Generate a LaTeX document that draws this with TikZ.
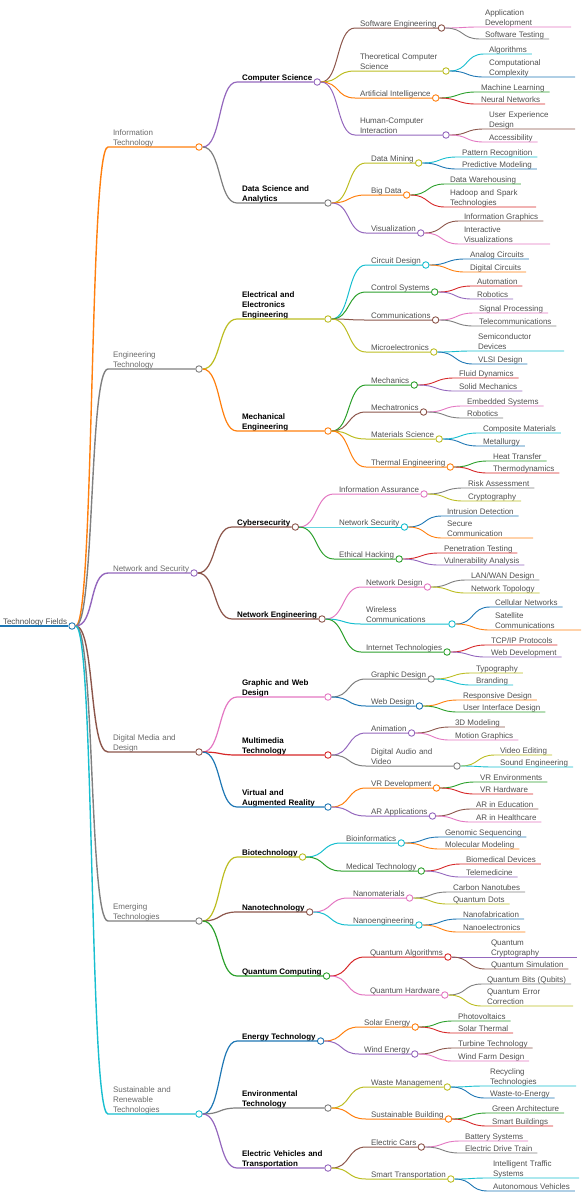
\documentclass[tikz,border=0pt]{standalone}
\usepackage{fontspec}
\setmainfont{Liberation Sans}
\usepackage{tikz}
\definecolor{cblue}{HTML}{1F77B4}
\definecolor{corange}{HTML}{FF7F0E}
\definecolor{cgreen}{HTML}{2CA02C}
\definecolor{cred}{HTML}{D62728}
\definecolor{cpurple}{HTML}{9467BD}
\definecolor{cbrown}{HTML}{8C564B}
\definecolor{cpink}{HTML}{E377C2}
\definecolor{cgray}{HTML}{7F7F7F}
\definecolor{colive}{HTML}{BCBD22}
\definecolor{ccyan}{HTML}{17BECF}
\definecolor{tgray}{HTML}{505050}
\definecolor{lgray}{HTML}{6A6A6A}
\tikzset{
    limb/.style={out=0, in=180, distance=19pt},
}
\begin{document}
\begin{tikzpicture}[
x=1pt, y=-1pt,
    every node/.style={font=\fontsize{8}{10}\selectfont},
    txt/.style={
        anchor=south west,
        align=left,
        inner xsep=5pt,
        inner ysep=0pt,
        outer sep=0pt,
        text=tgray,
        execute at end node={\rule[-1.5pt]{0pt}{1pt}}
    },
    wide/.style={text width=81pt},
    head/.style={txt, text=black, font=\fontsize{8}{10}\selectfont\bfseries},
    knob/.style={
        circle,
        draw=#1,
        fill=white,
        line width=0.9pt,
        minimum size=6.5pt,
        inner sep=0pt
    },
    w0/.style={line width=2pt},
    w1/.style={line width=1.4pt},
    w2/.style={line width=1.2pt},
    w3/.style={line width=1pt},
    w4/.style={line width=0.9pt}
]
\useasboundingbox (0,0) rectangle (588,1200);

% root and the six fields
\node[txt] (root) at (-2,626) {Technology Fields};
\node[knob=cblue] (root-c) at (root.south east) {};
\node[txt, wide, text=lgray] (it) at (108,147) {Information\\Technology};
\node[knob=corange] (it-c) at (it.south east) {};
\node[txt, wide, text=lgray] (et) at (108,369) {Engineering\\Technology};
\node[knob=cgray] (et-c) at (et.south east) {};
\node[txt, text=lgray] (ns) at (108,573) {Network and Security};
\node[knob=cpurple] (ns-c) at (ns.south east) {};
\node[txt, wide, text=lgray] (dmd) at (108,752) {Digital Media and\\Design};
\node[knob=cbrown] (dmd-c) at (dmd.south east) {};
\node[txt, wide, text=lgray] (emt) at (108,921) {Emerging\\Technologies};
\node[knob=cgray] (emt-c) at (emt.south east) {};
\node[txt, wide, text=lgray] (srt) at (108,1114) {Sustainable and\\Renewable\\Technologies};
\node[knob=ccyan] (srt-c) at (srt.south east) {};

% disciplines
\node[head] (cs) at (237,82) {Computer Science};
\node[knob=cpurple] (cs-c) at (cs.south east) {};
\node[head, wide] (dsa) at (237,203) {Data Science and\\Analytics};
\node[knob=cgray] (dsa-c) at (dsa.south east) {};
\node[head, wide] (eee) at (237,319) {Electrical and\\Electronics\\Engineering};
\node[knob=colive] (eee-c) at (eee.south east) {};
\node[head, wide] (me) at (237,431) {Mechanical\\Engineering};
\node[knob=corange] (me-c) at (me.south east) {};
\node[head] (cy) at (232,527) {Cybersecurity};
\node[knob=cbrown] (cy-c) at (cy.south east) {};
\node[head] (neng) at (232,619) {Network Engineering};
\node[knob=cbrown] (neng-c) at (neng.south east) {};
\node[head, wide] (gwd) at (237,697) {Graphic and Web\\Design};
\node[knob=cpink] (gwd-c) at (gwd.south east) {};
\node[head, wide] (mmt) at (237,755) {Multimedia\\Technology};
\node[knob=cred] (mmt-c) at (mmt.south east) {};
\node[head, wide] (var) at (237,807) {Virtual and\\Augmented Reality};
\node[knob=cblue] (var-c) at (var.south east) {};
\node[head] (bio) at (237,857) {Biotechnology};
\node[knob=colive] (bio-c) at (bio.south east) {};
\node[head] (nano) at (237,912) {Nanotechnology};
\node[knob=cbrown] (nano-c) at (nano.south east) {};
\node[head] (qc) at (237,976) {Quantum Computing};
\node[knob=cgreen] (qc-c) at (qc.south east) {};
\node[head] (ent) at (237,1041) {Energy Technology};
\node[knob=cblue] (ent-c) at (ent.south east) {};
\node[head, wide] (env) at (237,1108) {Environmental\\Technology};
\node[knob=cgray] (env-c) at (env.south east) {};
\node[head, wide] (ev) at (237,1168) {Electric Vehicles and\\Transportation};
\node[knob=cpurple] (ev-c) at (ev.south east) {};

% topics
\node[txt] (sweng) at (355,28) {Software Engineering};
\node[knob=cbrown] (sweng-c) at (sweng.south east) {};
\node[txt, wide] (tcs) at (355,71) {Theoretical Computer\\Science};
\node[knob=colive] (tcs-c) at (tcs.south east) {};
\node[txt] (ai) at (355,98) {Artificial Intelligence};
\node[knob=corange] (ai-c) at (ai.south east) {};
\node[txt, wide] (hci) at (355,135) {Human-Computer\\Interaction};
\node[knob=cpurple] (hci-c) at (hci.south east) {};
\node[txt] (dmin) at (366,163) {Data Mining};
\node[knob=colive] (dmin-c) at (dmin.south east) {};
\node[txt] (bigd) at (366,195) {Big Data};
\node[knob=corange] (bigd-c) at (bigd.south east) {};
\node[txt] (vis) at (366,233) {Visualization};
\node[knob=cpurple] (vis-c) at (vis.south east) {};
\node[txt] (circ) at (366,265) {Circuit Design};
\node[knob=ccyan] (circ-c) at (circ.south east) {};
\node[txt] (ctrl) at (366,292) {Control Systems};
\node[knob=cgreen] (ctrl-c) at (ctrl.south east) {};
\node[txt] (comm) at (366,320) {Communications};
\node[knob=cbrown] (comm-c) at (comm.south east) {};
\node[txt] (micro) at (366,352) {Microelectronics};
\node[knob=colive] (micro-c) at (micro.south east) {};
\node[txt] (mech) at (366,385) {Mechanics};
\node[knob=cgreen] (mech-c) at (mech.south east) {};
\node[txt] (mtron) at (366,412) {Mechatronics};
\node[knob=cbrown] (mtron-c) at (mtron.south east) {};
\node[txt] (matsci) at (366,439) {Materials Science};
\node[knob=colive] (matsci-c) at (matsci.south east) {};
\node[txt] (therm) at (366,467) {Thermal Engineering};
\node[knob=corange] (therm-c) at (therm.south east) {};
\node[txt] (infas) at (334,494) {Information Assurance};
\node[knob=cpink] (infas-c) at (infas.south east) {};
\node[txt] (nsec) at (334,527) {Network Security};
\node[knob=ccyan] (nsec-c) at (nsec.south east) {};
\node[txt] (ethh) at (334,559) {Ethical Hacking};
\node[knob=cgreen] (ethh-c) at (ethh.south east) {};
\node[txt] (ndes) at (361,587) {Network Design};
\node[knob=cpink] (ndes-c) at (ndes.south east) {};
\node[txt, wide] (wlc) at (361,624) {Wireless\\Communications};
\node[knob=ccyan] (wlc-c) at (wlc.south east) {};
\node[txt] (inet) at (361,652) {Internet Technologies};
\node[knob=cgreen] (inet-c) at (inet.south east) {};
\node[txt] (gdes) at (366,679) {Graphic Design};
\node[knob=cgray] (gdes-c) at (gdes.south east) {};
\node[txt] (wdes) at (366,706) {Web Design};
\node[knob=cblue] (wdes-c) at (wdes.south east) {};
\node[txt] (anim) at (366,733) {Animation};
\node[knob=cpurple] (anim-c) at (anim.south east) {};
\node[txt, wide] (dav) at (366,766) {Digital Audio and\\Video};
\node[knob=cgray] (dav-c) at (dav.south east) {};
\node[txt] (vrdev) at (366,788) {VR Development};
\node[knob=corange] (vrdev-c) at (vrdev.south east) {};
\node[txt] (arapp) at (366,816) {AR Applications};
\node[knob=cpurple] (arapp-c) at (arapp.south east) {};
\node[txt] (binf) at (341,843) {Bioinformatics};
\node[knob=ccyan] (binf-c) at (binf.south east) {};
\node[txt] (medt) at (341,871) {Medical Technology};
\node[knob=cgreen] (medt-c) at (medt.south east) {};
\node[txt] (nmat) at (348,898) {Nanomaterials};
\node[knob=cpink] (nmat-c) at (nmat.south east) {};
\node[txt] (neng2) at (348,925) {Nanoengineering};
\node[knob=ccyan] (neng2-c) at (neng2.south east) {};
\node[txt] (qalg) at (365,957) {Quantum Algorithms};
\node[knob=cred] (qalg-c) at (qalg.south east) {};
\node[txt] (qhw) at (365,995) {Quantum Hardware};
\node[knob=cpink] (qhw-c) at (qhw.south east) {};
\node[txt] (solar) at (359,1027) {Solar Energy};
\node[knob=corange] (solar-c) at (solar.south east) {};
\node[txt] (wind) at (359,1054) {Wind Energy};
\node[knob=cpurple] (wind-c) at (wind.south east) {};
\node[txt] (waste) at (366,1087) {Waste Management};
\node[knob=colive] (waste-c) at (waste.south east) {};
\node[txt] (sbld) at (366,1119) {Sustainable Building};
\node[knob=corange] (sbld-c) at (sbld.south east) {};
\node[txt] (ecar) at (366,1147) {Electric Cars};
\node[knob=cbrown] (ecar-c) at (ecar.south east) {};
\node[txt] (strans) at (366,1179) {Smart Transportation};
\node[knob=colive] (strans-c) at (strans.south east) {};

% leaves
\node[txt, wide] (appdev) at (480,27) {Application\\Development};
\node[txt] (swtest) at (480,39) {Software Testing};
\node[txt] (algo) at (484,54) {Algorithms};
\node[txt, wide] (ccomp) at (484,77) {Computational\\Complexity};
\node[txt] (ml) at (476,92) {Machine Learning};
\node[txt] (nn) at (476,104) {Neural Networks};
\node[txt, wide] (uxd) at (484,129) {User Experience\\Design};
\node[txt] (access) at (484,142) {Accessibility};
\node[txt] (patrec) at (457,157) {Pattern Recognition};
\node[txt] (predm) at (457,169) {Predictive Modeling};
\node[txt] (dware) at (445,184) {Data Warehousing};
\node[txt, wide] (hadoop) at (445,207) {Hadoop and Spark\\Technologies};
\node[txt] (infog) at (459,221) {Information Graphics};
\node[txt, wide] (intvis) at (459,244) {Interactive\\Visualizations};
\node[txt] (analog) at (465,259) {Analog Circuits};
\node[txt] (digit) at (465,272) {Digital Circuits};
\node[txt] (autom) at (472,286) {Automation};
\node[txt] (robo) at (472,299) {Robotics};
\node[txt] (sigp) at (474,313) {Signal Processing};
\node[txt] (telec) at (474,326) {Telecommunications};
\node[txt, wide] (semi) at (473,351) {Semiconductor\\Devices};
\node[txt] (vlsi) at (473,364) {VLSI Design};
\node[txt] (fluid) at (454,378) {Fluid Dynamics};
\node[txt] (solid) at (454,391) {Solid Mechanics};
\node[txt] (embed) at (462,406) {Embedded Systems};
\node[txt] (robo2) at (462,418) {Robotics};
\node[txt] (compm) at (478,433) {Composite Materials};
\node[txt] (metal) at (478,446) {Metallurgy};
\node[txt] (heat) at (488,461) {Heat Transfer};
\node[txt] (thdyn) at (488,473) {Thermodynamics};
\node[txt] (risk) at (463,488) {Risk Assessment};
\node[txt] (crypt) at (463,501) {Cryptography};
\node[txt] (intru) at (442,516) {Intrusion Detection};
\node[txt, wide] (secc) at (442,538) {Secure\\Communication};
\node[txt] (pent) at (439,553) {Penetration Testing};
\node[txt] (vuln) at (439,565) {Vulnerability Analysis};
\node[txt] (lan) at (466,580) {LAN/WAN Design};
\node[txt] (ntop) at (466,593) {Network Topology};
\node[txt] (cell) at (490,607) {Cellular Networks};
\node[txt, wide] (satc) at (490,630) {Satellite\\Communications};
\node[txt] (tcpip) at (486,645) {TCP/IP Protocols};
\node[txt] (webdev) at (486,657) {Web Development};
\node[txt] (typo) at (471,673) {Typography};
\node[txt] (brand) at (471,685) {Branding};
\node[txt] (resp) at (458,700) {Responsive Design};
\node[txt] (uid) at (458,712) {User Interface Design};
\node[txt] (tdm) at (450,727) {3D Modeling};
\node[txt] (motg) at (450,740) {Motion Graphics};
\node[txt] (vedit) at (495,755) {Video Editing};
\node[txt] (sound) at (495,767) {Sound Engineering};
\node[txt] (vrenv) at (475,782) {VR Environments};
\node[txt] (vrhw) at (475,794) {VR Hardware};
\node[txt] (aredu) at (471,809) {AR in Education};
\node[txt] (arhc) at (471,822) {AR in Healthcare};
\node[txt] (genom) at (440,837) {Genomic Sequencing};
\node[txt] (molm) at (440,849) {Molecular Modeling};
\node[txt] (biomd) at (461,864) {Biomedical Devices};
\node[txt] (telem) at (461,877) {Telemedicine};
\node[txt] (cnt) at (448,892) {Carbon Nanotubes};
\node[txt] (qdots) at (448,904) {Quantum Dots};
\node[txt] (nfab) at (458,919) {Nanofabrication};
\node[txt] (nelec) at (458,932) {Nanoelectronics};
\node[txt, wide] (qcrypt) at (486,957) {Quantum\\Cryptography};
\node[txt] (qsim) at (486,969) {Quantum Simulation};
\node[txt] (qbits) at (482,984) {Quantum Bits (Qubits)};
\node[txt, wide] (qec) at (482,1006) {Quantum Error\\Correction};
\node[txt] (pv) at (453,1021) {Photovoltaics};
\node[txt] (sth) at (453,1033) {Solar Thermal};
\node[txt] (turb) at (453,1048) {Turbine Technology};
\node[txt] (wfarm) at (453,1061) {Wind Farm Design};
\node[txt, wide] (recyc) at (485,1086) {Recycling\\Technologies};
\node[txt] (wte) at (485,1098) {Waste-to-Energy};
\node[txt] (garch) at (487,1113) {Green Architecture};
\node[txt] (sbuild) at (487,1126) {Smart Buildings};
\node[txt] (batt) at (460,1141) {Battery Systems};
\node[txt] (edrive) at (460,1153) {Electric Drive Train};
\node[txt, wide] (itraf) at (488,1178) {Intelligent Traffic\\Systems};
\node[txt] (auton) at (488,1191) {Autonomous Vehicles};

% root to fields
\draw[w0, cblue] (root.south west) -- (root-c);
\draw[w1, corange] (root-c) to[limb] (it.south west) -- (it-c);
\draw[w1, cgray] (root-c) to[limb] (et.south west) -- (et-c);
\draw[w1, cpurple] (root-c) to[limb] (ns.south west) -- (ns-c);
\draw[w1, cbrown] (root-c) to[limb] (dmd.south west) -- (dmd-c);
\draw[w1, cgray] (root-c) to[limb] (emt.south west) -- (emt-c);
\draw[w1, ccyan] (root-c) to[limb] (srt.south west) -- (srt-c);

% fields to disciplines
\draw[w2, cpurple] (it-c) to[limb] (cs.south west) -- (cs-c);
\draw[w2, cgray] (it-c) to[limb] (dsa.south west) -- (dsa-c);
\draw[w2, colive] (et-c) to[limb] (eee.south west) -- (eee-c);
\draw[w2, corange] (et-c) to[limb] (me.south west) -- (me-c);
\draw[w2, cbrown] (ns-c) to[limb] (cy.south west) -- (cy-c);
\draw[w2, cbrown] (ns-c) to[limb] (neng.south west) -- (neng-c);
\draw[w2, cpink] (dmd-c) to[limb] (gwd.south west) -- (gwd-c);
\draw[w2, cred] (dmd-c) to[limb] (mmt.south west) -- (mmt-c);
\draw[w2, cblue] (dmd-c) to[limb] (var.south west) -- (var-c);
\draw[w2, colive] (emt-c) to[limb] (bio.south west) -- (bio-c);
\draw[w2, cbrown] (emt-c) to[limb] (nano.south west) -- (nano-c);
\draw[w2, cgreen] (emt-c) to[limb] (qc.south west) -- (qc-c);
\draw[w2, cblue] (srt-c) to[limb] (ent.south west) -- (ent-c);
\draw[w2, cgray] (srt-c) to[limb] (env.south west) -- (env-c);
\draw[w2, cpurple] (srt-c) to[limb] (ev.south west) -- (ev-c);

% disciplines to topics
\draw[w3, cbrown] (cs-c) to[limb] (sweng.south west) -- (sweng-c);
\draw[w3, colive] (cs-c) to[limb] (tcs.south west) -- (tcs-c);
\draw[w3, corange] (cs-c) to[limb] (ai.south west) -- (ai-c);
\draw[w3, cpurple] (cs-c) to[limb] (hci.south west) -- (hci-c);
\draw[w3, colive] (dsa-c) to[limb] (dmin.south west) -- (dmin-c);
\draw[w3, corange] (dsa-c) to[limb] (bigd.south west) -- (bigd-c);
\draw[w3, cpurple] (dsa-c) to[limb] (vis.south west) -- (vis-c);
\draw[w3, ccyan] (eee-c) to[limb] (circ.south west) -- (circ-c);
\draw[w3, cgreen] (eee-c) to[limb] (ctrl.south west) -- (ctrl-c);
\draw[w3, cbrown] (eee-c) to[limb] (comm.south west) -- (comm-c);
\draw[w3, colive] (eee-c) to[limb] (micro.south west) -- (micro-c);
\draw[w3, cgreen] (me-c) to[limb] (mech.south west) -- (mech-c);
\draw[w3, cbrown] (me-c) to[limb] (mtron.south west) -- (mtron-c);
\draw[w3, colive] (me-c) to[limb] (matsci.south west) -- (matsci-c);
\draw[w3, corange] (me-c) to[limb] (therm.south west) -- (therm-c);
\draw[w3, cpink] (cy-c) to[limb] (infas.south west) -- (infas-c);
\draw[w3, ccyan] (cy-c) to[limb] (nsec.south west) -- (nsec-c);
\draw[w3, cgreen] (cy-c) to[limb] (ethh.south west) -- (ethh-c);
\draw[w3, cpink] (neng-c) to[limb] (ndes.south west) -- (ndes-c);
\draw[w3, ccyan] (neng-c) to[limb] (wlc.south west) -- (wlc-c);
\draw[w3, cgreen] (neng-c) to[limb] (inet.south west) -- (inet-c);
\draw[w3, cgray] (gwd-c) to[limb] (gdes.south west) -- (gdes-c);
\draw[w3, cblue] (gwd-c) to[limb] (wdes.south west) -- (wdes-c);
\draw[w3, cpurple] (mmt-c) to[limb] (anim.south west) -- (anim-c);
\draw[w3, cgray] (mmt-c) to[limb] (dav.south west) -- (dav-c);
\draw[w3, corange] (var-c) to[limb] (vrdev.south west) -- (vrdev-c);
\draw[w3, cpurple] (var-c) to[limb] (arapp.south west) -- (arapp-c);
\draw[w3, ccyan] (bio-c) to[limb] (binf.south west) -- (binf-c);
\draw[w3, cgreen] (bio-c) to[limb] (medt.south west) -- (medt-c);
\draw[w3, cpink] (nano-c) to[limb] (nmat.south west) -- (nmat-c);
\draw[w3, ccyan] (nano-c) to[limb] (neng2.south west) -- (neng2-c);
\draw[w3, cred] (qc-c) to[limb] (qalg.south west) -- (qalg-c);
\draw[w3, cpink] (qc-c) to[limb] (qhw.south west) -- (qhw-c);
\draw[w3, corange] (ent-c) to[limb] (solar.south west) -- (solar-c);
\draw[w3, cpurple] (ent-c) to[limb] (wind.south west) -- (wind-c);
\draw[w3, colive] (env-c) to[limb] (waste.south west) -- (waste-c);
\draw[w3, corange] (env-c) to[limb] (sbld.south west) -- (sbld-c);
\draw[w3, cbrown] (ev-c) to[limb] (ecar.south west) -- (ecar-c);
\draw[w3, colive] (ev-c) to[limb] (strans.south west) -- (strans-c);

% topics to leaves
\draw[w4, cpink] (sweng-c) to[limb] (appdev.south west) -- (appdev.south east);
\draw[w4, cgray] (sweng-c) to[limb] (swtest.south west) -- (swtest.south east);
\draw[w4, ccyan] (tcs-c) to[limb] (algo.south west) -- (algo.south east);
\draw[w4, cblue] (tcs-c) to[limb] (ccomp.south west) -- (ccomp.south east);
\draw[w4, cgreen] (ai-c) to[limb] (ml.south west) -- (ml.south east);
\draw[w4, cred] (ai-c) to[limb] (nn.south west) -- (nn.south east);
\draw[w4, cbrown] (hci-c) to[limb] (uxd.south west) -- (uxd.south east);
\draw[w4, cpink] (hci-c) to[limb] (access.south west) -- (access.south east);
\draw[w4, ccyan] (dmin-c) to[limb] (patrec.south west) -- (patrec.south east);
\draw[w4, cblue] (dmin-c) to[limb] (predm.south west) -- (predm.south east);
\draw[w4, cgreen] (bigd-c) to[limb] (dware.south west) -- (dware.south east);
\draw[w4, cred] (bigd-c) to[limb] (hadoop.south west) -- (hadoop.south east);
\draw[w4, cbrown] (vis-c) to[limb] (infog.south west) -- (infog.south east);
\draw[w4, cpink] (vis-c) to[limb] (intvis.south west) -- (intvis.south east);
\draw[w4, cblue] (circ-c) to[limb] (analog.south west) -- (analog.south east);
\draw[w4, corange] (circ-c) to[limb] (digit.south west) -- (digit.south east);
\draw[w4, cred] (ctrl-c) to[limb] (autom.south west) -- (autom.south east);
\draw[w4, cpurple] (ctrl-c) to[limb] (robo.south west) -- (robo.south east);
\draw[w4, cpink] (comm-c) to[limb] (sigp.south west) -- (sigp.south east);
\draw[w4, cgray] (comm-c) to[limb] (telec.south west) -- (telec.south east);
\draw[w4, ccyan] (micro-c) to[limb] (semi.south west) -- (semi.south east);
\draw[w4, cblue] (micro-c) to[limb] (vlsi.south west) -- (vlsi.south east);
\draw[w4, cred] (mech-c) to[limb] (fluid.south west) -- (fluid.south east);
\draw[w4, cpurple] (mech-c) to[limb] (solid.south west) -- (solid.south east);
\draw[w4, cpink] (mtron-c) to[limb] (embed.south west) -- (embed.south east);
\draw[w4, cgray] (mtron-c) to[limb] (robo2.south west) -- (robo2.south east);
\draw[w4, ccyan] (matsci-c) to[limb] (compm.south west) -- (compm.south east);
\draw[w4, cblue] (matsci-c) to[limb] (metal.south west) -- (metal.south east);
\draw[w4, cgreen] (therm-c) to[limb] (heat.south west) -- (heat.south east);
\draw[w4, cred] (therm-c) to[limb] (thdyn.south west) -- (thdyn.south east);
\draw[w4, cgray] (infas-c) to[limb] (risk.south west) -- (risk.south east);
\draw[w4, colive] (infas-c) to[limb] (crypt.south west) -- (crypt.south east);
\draw[w4, cblue] (nsec-c) to[limb] (intru.south west) -- (intru.south east);
\draw[w4, corange] (nsec-c) to[limb] (secc.south west) -- (secc.south east);
\draw[w4, cred] (ethh-c) to[limb] (pent.south west) -- (pent.south east);
\draw[w4, cpurple] (ethh-c) to[limb] (vuln.south west) -- (vuln.south east);
\draw[w4, cgray] (ndes-c) to[limb] (lan.south west) -- (lan.south east);
\draw[w4, colive] (ndes-c) to[limb] (ntop.south west) -- (ntop.south east);
\draw[w4, cblue] (wlc-c) to[limb] (cell.south west) -- (cell.south east);
\draw[w4, corange] (wlc-c) to[limb] (satc.south west) -- (satc.south east);
\draw[w4, cred] (inet-c) to[limb] (tcpip.south west) -- (tcpip.south east);
\draw[w4, cpurple] (inet-c) to[limb] (webdev.south west) -- (webdev.south east);
\draw[w4, colive] (gdes-c) to[limb] (typo.south west) -- (typo.south east);
\draw[w4, ccyan] (gdes-c) to[limb] (brand.south west) -- (brand.south east);
\draw[w4, corange] (wdes-c) to[limb] (resp.south west) -- (resp.south east);
\draw[w4, cgreen] (wdes-c) to[limb] (uid.south west) -- (uid.south east);
\draw[w4, cbrown] (anim-c) to[limb] (tdm.south west) -- (tdm.south east);
\draw[w4, cpink] (anim-c) to[limb] (motg.south west) -- (motg.south east);
\draw[w4, colive] (dav-c) to[limb] (vedit.south west) -- (vedit.south east);
\draw[w4, ccyan] (dav-c) to[limb] (sound.south west) -- (sound.south east);
\draw[w4, cgreen] (vrdev-c) to[limb] (vrenv.south west) -- (vrenv.south east);
\draw[w4, cred] (vrdev-c) to[limb] (vrhw.south west) -- (vrhw.south east);
\draw[w4, cbrown] (arapp-c) to[limb] (aredu.south west) -- (aredu.south east);
\draw[w4, cpink] (arapp-c) to[limb] (arhc.south west) -- (arhc.south east);
\draw[w4, cblue] (binf-c) to[limb] (genom.south west) -- (genom.south east);
\draw[w4, corange] (binf-c) to[limb] (molm.south west) -- (molm.south east);
\draw[w4, cred] (medt-c) to[limb] (biomd.south west) -- (biomd.south east);
\draw[w4, cpurple] (medt-c) to[limb] (telem.south west) -- (telem.south east);
\draw[w4, cgray] (nmat-c) to[limb] (cnt.south west) -- (cnt.south east);
\draw[w4, colive] (nmat-c) to[limb] (qdots.south west) -- (qdots.south east);
\draw[w4, cblue] (neng2-c) to[limb] (nfab.south west) -- (nfab.south east);
\draw[w4, corange] (neng2-c) to[limb] (nelec.south west) -- (nelec.south east);
\draw[w4, cpurple] (qalg-c) to[limb] (qcrypt.south west) -- (qcrypt.south east);
\draw[w4, cbrown] (qalg-c) to[limb] (qsim.south west) -- (qsim.south east);
\draw[w4, cgray] (qhw-c) to[limb] (qbits.south west) -- (qbits.south east);
\draw[w4, colive] (qhw-c) to[limb] (qec.south west) -- (qec.south east);
\draw[w4, cgreen] (solar-c) to[limb] (pv.south west) -- (pv.south east);
\draw[w4, cred] (solar-c) to[limb] (sth.south west) -- (sth.south east);
\draw[w4, cbrown] (wind-c) to[limb] (turb.south west) -- (turb.south east);
\draw[w4, cpink] (wind-c) to[limb] (wfarm.south west) -- (wfarm.south east);
\draw[w4, ccyan] (waste-c) to[limb] (recyc.south west) -- (recyc.south east);
\draw[w4, cblue] (waste-c) to[limb] (wte.south west) -- (wte.south east);
\draw[w4, cgreen] (sbld-c) to[limb] (garch.south west) -- (garch.south east);
\draw[w4, cred] (sbld-c) to[limb] (sbuild.south west) -- (sbuild.south east);
\draw[w4, cpink] (ecar-c) to[limb] (batt.south west) -- (batt.south east);
\draw[w4, cgray] (ecar-c) to[limb] (edrive.south west) -- (edrive.south east);
\draw[w4, ccyan] (strans-c) to[limb] (itraf.south west) -- (itraf.south east);
\draw[w4, cblue] (strans-c) to[limb] (auton.south west) -- (auton.south east);
\end{tikzpicture}
\end{document}
